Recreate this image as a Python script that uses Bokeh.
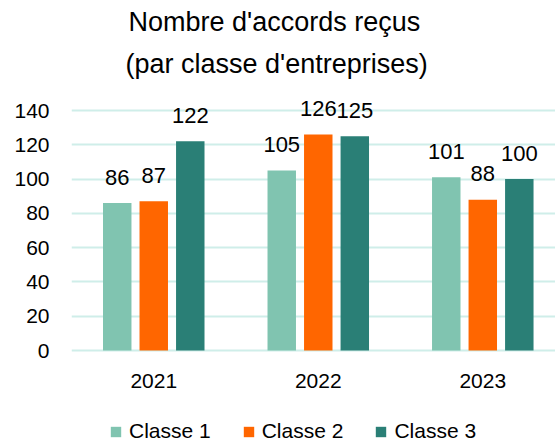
from bokeh.plotting import figure
from bokeh.models import (ColumnDataSource, Range1d, FixedTicker, LabelSet,
                          Legend, LegendItem, Title)
from bokeh.core.properties import value
from bokeh.embed import file_html
from bokeh.resources import INLINE

years = ["2021", "2022", "2023"]
series = ["Classe 1", "Classe 2", "Classe 3"]
classe1 = [86, 105, 101]
classe2 = [87, 126, 88]
classe3 = [122, 125, 100]
colors = ["#80C4B0", "#FF6600", "#2A7F76"]
y_ticks = [0, 20, 40, 60, 80, 100, 120, 140]
title_lines = ["Nombre d'accords reçus", "(par classe d'entreprises)"]

FONT = "Liberation Sans"
GRID = "#CFEEE9"

# frame spans the lower part of the canvas; room below 0 holds year labels + legend
p = figure(width=555, height=441, output_backend="svg", toolbar_location=None,
           x_range=Range1d(-0.5, 2.442), y_range=Range1d(-53.08, 151.67),
           x_axis_location=None,
           min_border_left=71, min_border_right=0, min_border_top=90,
           min_border_bottom=0)
p.outline_line_color = None
p.background_fill_color = "white"
p.border_fill_color = "white"

# title lines (added closest-to-frame first)
for txt, off, so in [(title_lines[1], 54, 24), (title_lines[0], 57, -5)]:
    t = Title(text=txt, align="left", offset=off, standoff=so,
              text_font=FONT, text_font_size="27px", text_font_style="normal",
              text_color="#000000")
    p.add_layout(t, "above")

xs = list(range(len(years)))
offsets = [-0.222, 0.0, 0.222]
bar_w = 0.173
items = []
for vals, off, col, name in zip([classe1, classe2, classe3], offsets, colors, series):
    src = ColumnDataSource(dict(x=[x + off for x in xs], top=vals,
                                label=[str(v) for v in vals]))
    r = p.vbar(x="x", top="top", width=bar_w, source=src,
               fill_color=col, line_color=None)
    items.append(LegendItem(label=name, renderers=[r]))
    p.add_layout(LabelSet(x="x", y="top", text="label", source=src,
                          y_offset=26, text_align="center", text_baseline="middle",
                          text_font=value(FONT), text_font_size=value("22px"),
                          text_color="#000000"))

# category labels under the zero line
cat_src = ColumnDataSource(dict(x=xs, y=[0] * len(xs), label=years))
p.add_layout(LabelSet(x="x", y="y", text="label", source=cat_src,
                      y_offset=-30, text_align="center", text_baseline="middle",
                      text_font=value(FONT), text_font_size=value("21px"),
                      text_color="#000000"))

# y axis
p.yaxis.ticker = FixedTicker(ticks=y_ticks)
p.yaxis.axis_line_color = None
p.yaxis.major_tick_line_color = None
p.yaxis.minor_tick_line_color = None
p.yaxis.major_tick_out = 0
p.yaxis.major_label_standoff = 22
p.yaxis.major_label_text_font = FONT
p.yaxis.major_label_text_font_size = "21px"
p.yaxis.major_label_text_color = "#000000"

p.xgrid.visible = False
p.ygrid.grid_line_color = GRID
p.ygrid.grid_line_width = 2

legend = Legend(items=items, orientation="horizontal", location=(38, -2),
                padding=0, margin=0, spacing=31, label_standoff=7,
                glyph_width=13, glyph_height=13,
                label_text_font=FONT, label_text_font_size="21px",
                label_text_color="#000000",
                border_line_color=None, background_fill_alpha=0)
p.add_layout(legend)

open("out.html", "w").write(file_html(p, INLINE))
